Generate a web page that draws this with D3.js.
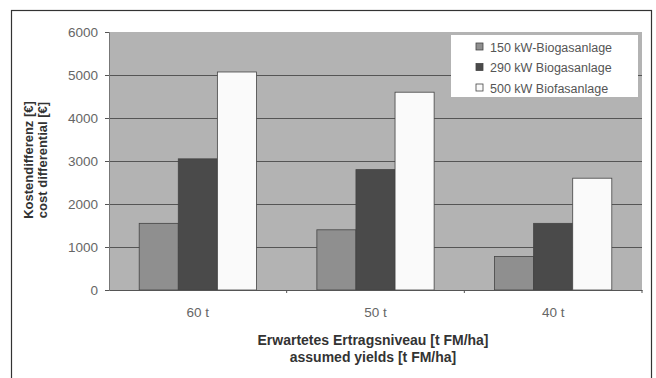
<!DOCTYPE html>
<html>
<head>
<meta charset="utf-8">
<script src="https://cdn.jsdelivr.net/npm/d3@7"></script>
<style>
  html, body { margin: 0; padding: 0; background: #fff; }
  svg { display: block; }
  text { font-family: "Liberation Sans", Arial, sans-serif; }
</style>
</head>
<body>
<svg id="chart" width="656" height="378"></svg>
<script>
// Yield levels and cost differentials per plant size
const categories = ["60 t", "50 t", "40 t"];
const seriesNames = ["150 kW-Biogasanlage", "290 kW Biogasanlage", "500 kW Biofasanlage"];
const plant150 = [1550, 1400, 780];
const plant290 = [3050, 2800, 1550];
const plant500 = [5070, 4600, 2600];
const yTicks = [0, 1000, 2000, 3000, 4000, 5000, 6000];

const seriesValues = [plant150, plant290, plant500];
const seriesColors = ["#8f8f8f", "#4a4a4a", "#fafafa"];

const svg = d3.select("#chart");
const W = 656, H = 378;
const m = { left: 109, right: 14, top: 32, bottom: 88 };
const pw = W - m.left - m.right, ph = H - m.top - m.bottom;

// outer frame
svg.append("rect")
  .attr("x", 11.5).attr("y", 10.5).attr("width", 640).attr("height", 380)
  .attr("fill", "#fff").attr("stroke", "#333").attr("stroke-width", 1.2);

const g = svg.append("g").attr("transform", `translate(${m.left},${m.top})`);

const x0 = d3.scaleBand().domain(categories).range([0, pw])
  .paddingInner(0.34).paddingOuter(0.17);
const x1 = d3.scaleBand().domain(d3.range(seriesNames.length)).range([0, x0.bandwidth()]);
const y = d3.scaleLinear().domain([0, 6000]).range([ph, 0]);

// plot background
g.append("rect").attr("width", pw).attr("height", ph).attr("fill", "#b3b3b3");

// gridlines
g.append("g").selectAll("line").data(yTicks.slice(1, -1)).join("line")
  .attr("x1", 0).attr("x2", pw)
  .attr("y1", d => Math.round(y(d)) + 0.5).attr("y2", d => Math.round(y(d)) + 0.5)
  .attr("stroke", "#555").attr("stroke-width", 1.2);

// bars
const groups = g.append("g").selectAll("g").data(categories).join("g")
  .attr("transform", d => `translate(${x0(d)},0)`);
groups.selectAll("rect").data((c, ci) => seriesValues.map((s, si) => ({ si, v: s[ci] })))
  .join("rect")
  .attr("x", d => x1(d.si))
  .attr("y", d => y(d.v))
  .attr("width", x1.bandwidth())
  .attr("height", d => ph - y(d.v))
  .attr("fill", d => seriesColors[d.si])
  .attr("stroke", "#444").attr("stroke-width", 0.8);

// y axis
const yAxis = g.append("g")
  .call(d3.axisLeft(y).tickValues(yTicks).tickSize(4).tickPadding(7).tickFormat(d3.format("d")));
yAxis.select(".domain").attr("stroke", "#777");
yAxis.selectAll(".tick line").attr("stroke", "#555");
yAxis.selectAll("text").attr("font-size", 13.5).attr("fill", "#666");

// x axis
const xAxis = g.append("g").attr("transform", `translate(0,${ph})`)
  .call(d3.axisBottom(x0).tickSize(0).tickPadding(17));
xAxis.select(".domain").attr("stroke", "#555");
xAxis.selectAll("text").attr("font-size", 13.5).attr("fill", "#666");
// category separators
g.append("g").selectAll("line").data(d3.range(1, categories.length + 1)).join("line")
  .attr("x1", i => i * x0.step()).attr("x2", i => i * x0.step())
  .attr("y1", ph).attr("y2", ph + 3)
  .attr("stroke", "#555");

// axis titles
const xt = svg.append("text").attr("text-anchor", "middle")
  .attr("font-size", 14).attr("font-weight", "bold").attr("fill", "#333");
xt.append("tspan").attr("x", 373).attr("y", 345).text("Erwartetes Ertragsniveau [t FM/ha]");
xt.append("tspan").attr("x", 373).attr("y", 362).text("assumed yields [t FM/ha]");

const yt = svg.append("text").attr("text-anchor", "middle")
  .attr("font-size", 13).attr("font-weight", "bold").attr("fill", "#333")
  .attr("transform", "translate(33,160) rotate(-90)");
yt.append("tspan").attr("x", 0).attr("y", 0).text("Kostendifferenz [€]");
yt.append("tspan").attr("x", 0).attr("y", 14).text("cost differential [€]");

// legend
const lg = svg.append("g").attr("transform", "translate(451,35)");
lg.append("rect").attr("width", 187).attr("height", 62).attr("fill", "#fff");
const items = lg.selectAll("g").data(seriesNames).join("g")
  .attr("transform", (d, i) => `translate(25,${12 + i * 20.5})`);
items.append("rect").attr("x", 0).attr("y", -4).attr("width", 7).attr("height", 7)
  .attr("fill", (d, i) => seriesColors[i]).attr("stroke", "#444").attr("stroke-width", 0.8);
items.append("text").attr("x", 14).attr("y", 4.5)
  .attr("font-size", 12.5).attr("fill", "#555").text(d => d);
</script>
</body>
</html>
